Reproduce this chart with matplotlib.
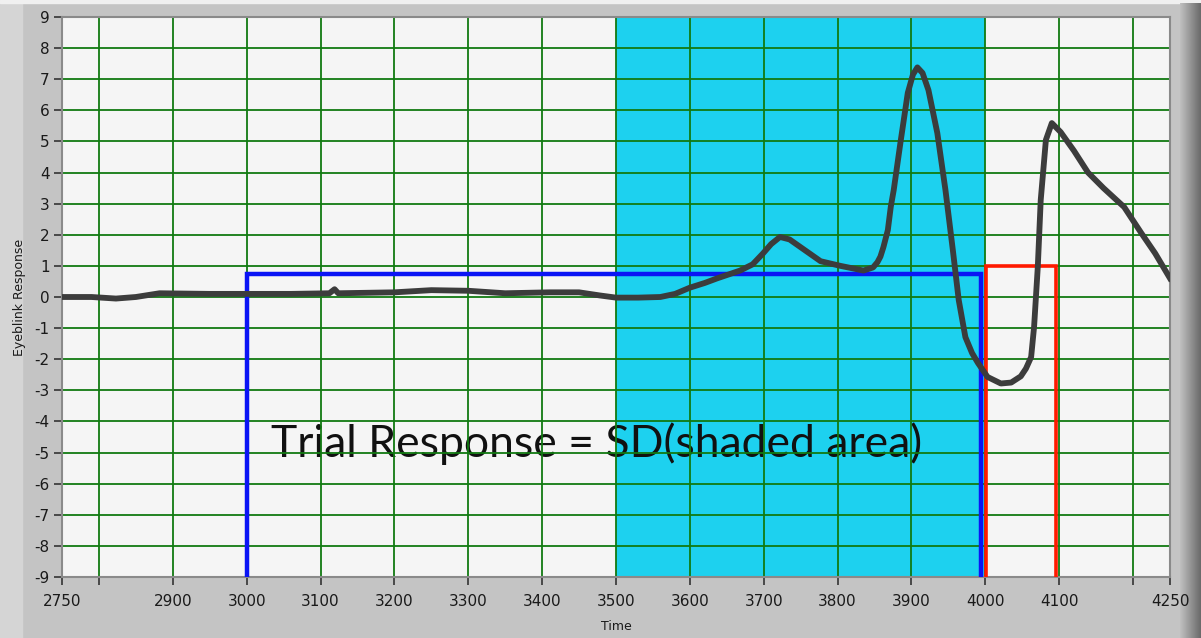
import matplotlib
matplotlib.use('Agg')
import matplotlib.pyplot as plt
from matplotlib.patches import Rectangle
import numpy as np

plt.rcParams['axes.unicode_minus'] = False

# eyeblink trace
trace_t = [2750, 2790, 2823, 2850, 2882, 2950, 3000, 3060, 3112, 3119, 3124, 3200, 3250,
           3300, 3350, 3410, 3450, 3478, 3500, 3530, 3560, 3580, 3600, 3620, 3637, 3668,
           3685, 3699, 3710, 3722, 3735, 3750, 3777, 3804, 3835, 3848, 3854, 3858, 3862,
           3868, 3872, 3876, 3885, 3895, 3902, 3908, 3915, 3923, 3935, 3946, 3956, 3964,
           3973, 3982, 3990, 4003, 4021, 4035, 4048, 4055, 4062, 4066, 4071, 4075, 4082,
           4090, 4102, 4120, 4139, 4160, 4188, 4211, 4230, 4250]
trace_y = [0.0, 0.0, -0.05, 0.0, 0.12, 0.1, 0.1, 0.1, 0.12, 0.25, 0.12, 0.15, 0.22,
           0.2, 0.12, 0.15, 0.15, 0.05, -0.02, -0.02, 0.0, 0.1, 0.3, 0.45, 0.6, 0.85,
           1.05, 1.4, 1.7, 1.93, 1.85, 1.6, 1.15, 1.0, 0.85, 0.95, 1.12, 1.3, 1.6,
           2.15, 2.9, 3.44, 4.95, 6.56, 7.15, 7.38, 7.2, 6.65, 5.27, 3.44, 1.51, -0.1,
           -1.29, -1.8, -2.12, -2.57, -2.78, -2.75, -2.55, -2.3, -1.93, -0.96, 0.96, 3.12, 5.05,
           5.59, 5.3, 4.7, 4.0, 3.5, 2.89, 2.06, 1.4, 0.6]

# CS (blue) and US (red) gates
cs_t = [3000, 3000, 3994, 3994]
cs_y = [-9, 0.75, 0.75, -9]
us_t = [4001, 4001, 4095, 4095]
us_y = [-9, 1.0, 1.0, -9]

# analysis window
win_start, win_end = 3500, 4000

x_ticks = [2750, 2800, 2900, 3000, 3100, 3200, 3300, 3400, 3500, 3600, 3700, 3800, 3900,
           4000, 4100, 4200, 4250]
x_labels = ['2750', '', '2900', '3000', '3100', '3200', '3300', '3400', '3500', '3600',
            '3700', '3800', '3900', '4000', '4100', '', '4250']
y_ticks = list(range(-9, 10))

W, H = 1201, 638
fig = plt.figure(figsize=(W / 100, H / 100), dpi=100, facecolor='#c4c4c4')

# frame shading like the LabVIEW panel (behind everything)
fig.patches.append(Rectangle((0, 0), 22 / W, 1, transform=fig.transFigure,
                             color='#d5d5d5', zorder=-5))
fig.patches.append(Rectangle((0, 1 - 3 / H), 1, 3 / H, transform=fig.transFigure,
                             color='#f0f0f0', zorder=-5))
grad = np.linspace(0, 1, 50).reshape(1, -1)
gax = fig.add_axes([1180 / W, 0, 21 / W, 1 - 3 / H])
gax.imshow(grad, aspect='auto', cmap=matplotlib.colors.LinearSegmentedColormap.from_list(
    'g', ['#c0c0c0', '#6a6a6a']))
gax.axis('off')

ax = fig.add_axes([62 / W, (H - 577) / H, (1170 - 62) / W, (577 - 17) / H])
ax.set_facecolor('#f5f5f5')

ax.axvspan(win_start, win_end, color='#1dd1ef', zorder=1, lw=0)

ax.text(3033, -4.7, 'Trial Response = SD(shaded area)', fontsize=32, family='Lato',
        ha='left', va='center', color='#111111', zorder=1)

ax.plot(cs_t, cs_y, color='#0a14f5', lw=3.2, zorder=3, solid_joinstyle='miter')
ax.plot(us_t, us_y, color='#ff1a00', lw=2.6, zorder=3, solid_joinstyle='miter')
ax.plot(trace_t, trace_y, color='#3c3c3c', lw=4.2, zorder=4)

ax.set_xlim(2750, 4250)
ax.set_ylim(-9, 9)
ax.set_xticks(x_ticks)
ax.set_xticklabels(x_labels)
ax.set_yticks(y_ticks)

# green grid, only on interior hundreds for x
ax.set_axisbelow('line')
ax.grid(True, axis='y', color='#117a11', lw=1.3)
for t in x_ticks[1:-1]:
    ax.axvline(t, color='#117a11', lw=1.3, zorder=1.5)

ax.tick_params(axis='both', labelsize=11, colors='#333333', labelcolor='#1a1a1a',
               length=6, width=1.2)
ax.tick_params(axis='x', pad=6)
ax.tick_params(axis='y', pad=3)
for s in ax.spines.values():
    s.set_color('#8a8a8a')
    s.set_linewidth(1.5)

ax.set_xlabel('Time', fontsize=9, labelpad=8, color='#1a1a1a')
ax.set_ylabel('Eyeblink Response', fontsize=9, labelpad=6, color='#1a1a1a')

fig.savefig('out.png', dpi=100, facecolor=fig.get_facecolor())
